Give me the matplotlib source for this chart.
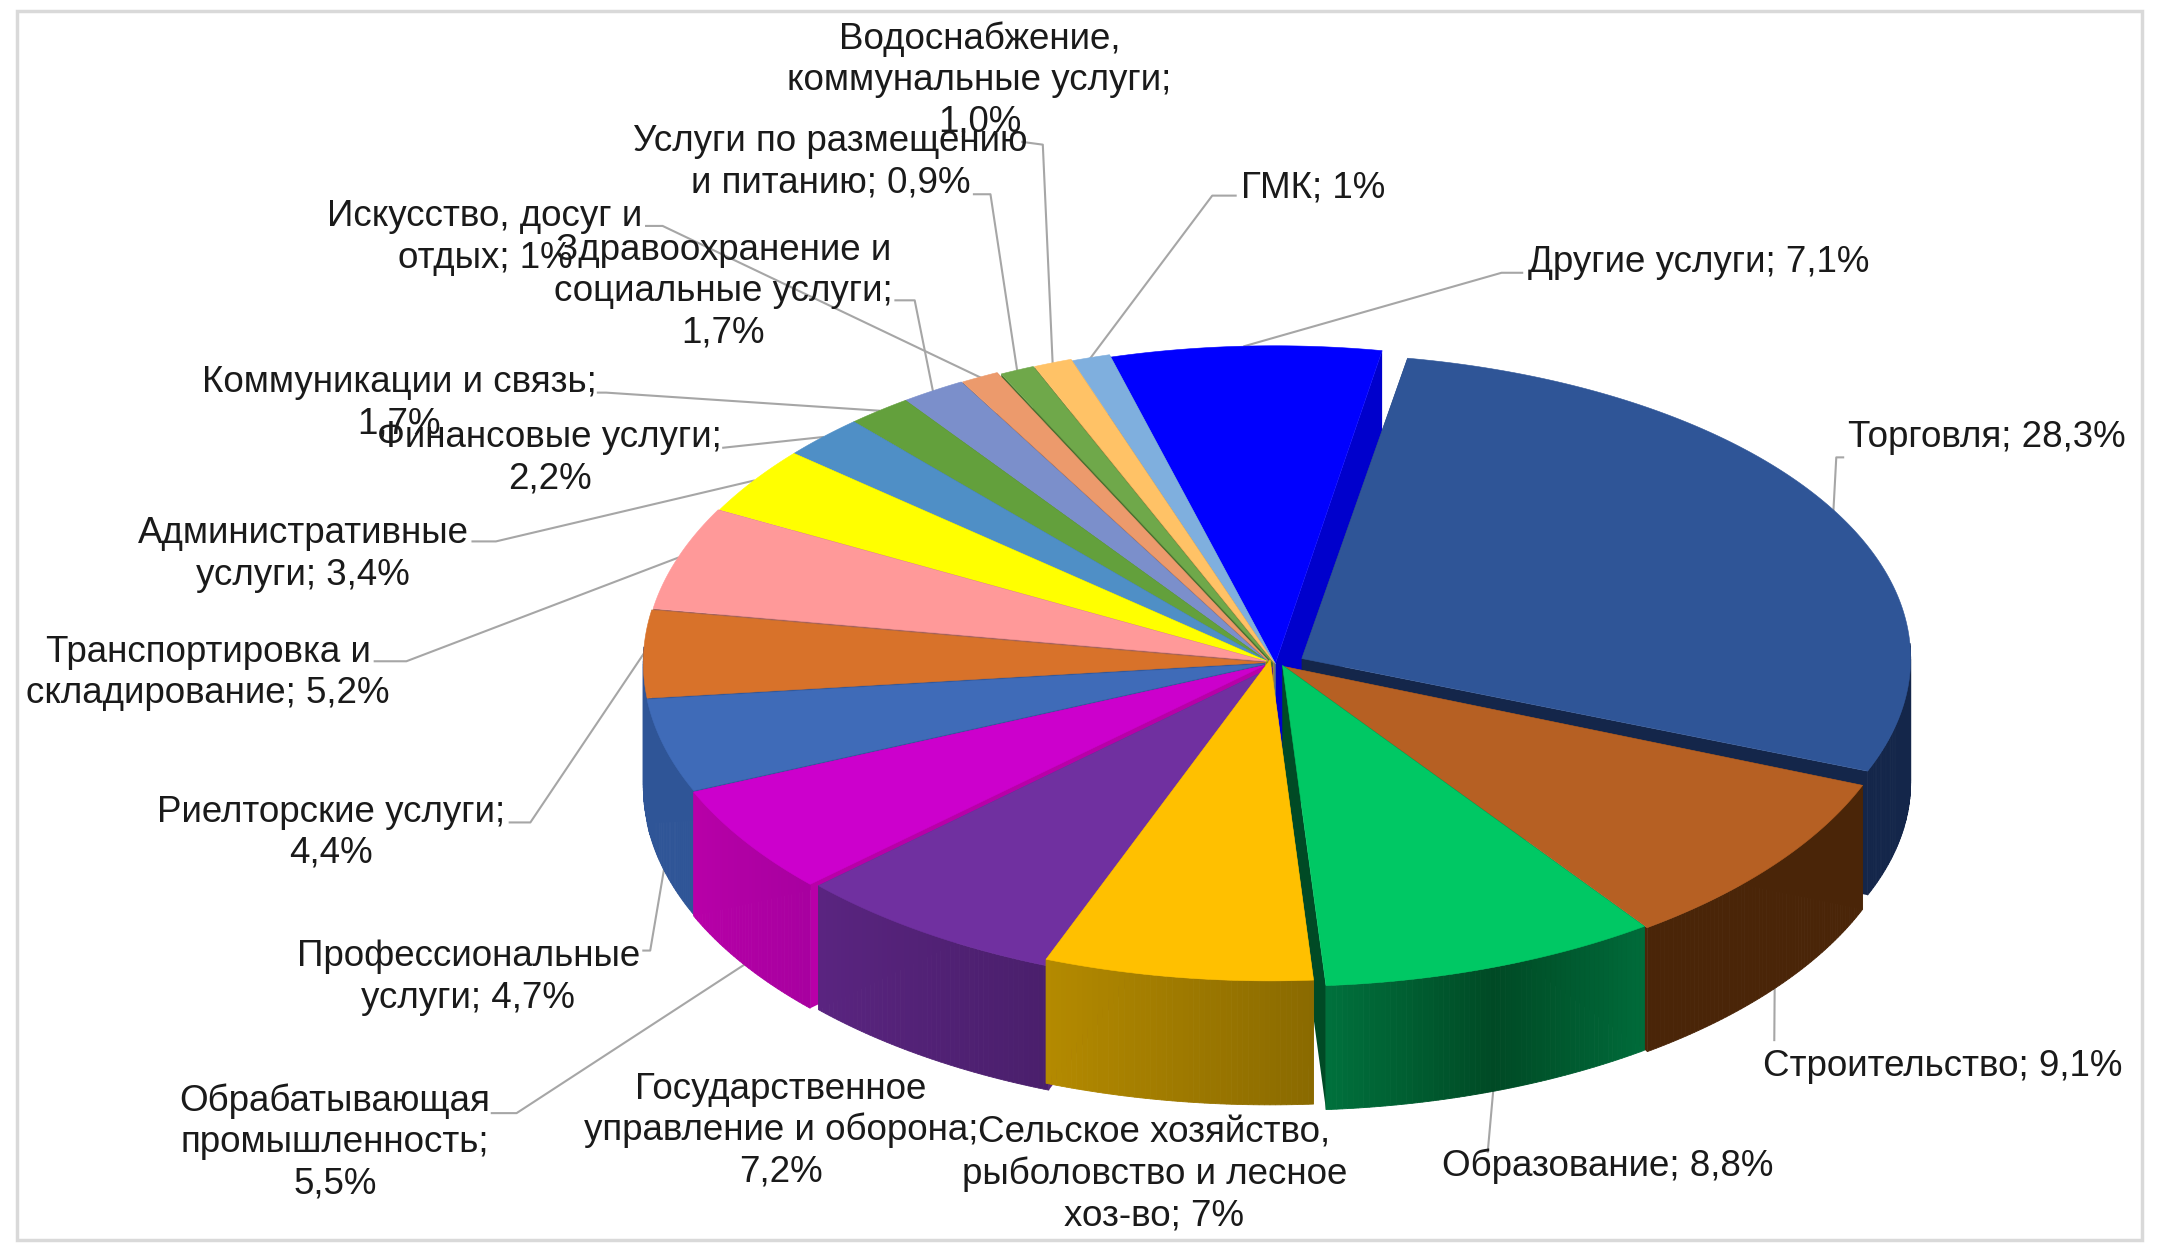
import numpy as np
import matplotlib
matplotlib.use("Agg")
import matplotlib.pyplot as plt
from matplotlib.colors import to_rgb
from matplotlib.patches import Polygon, Rectangle

# chart data, clockwise from the first slice
categories = [
    "Торговля", "Строительство", "Образование",
    "Сельское хозяйство,\nрыболовство и лесное\nхоз-во",
    "Государственное\nуправление и оборона", "Обрабатывающая\nпромышленность",
    "Профессиональные\nуслуги", "Риелторские услуги",
    "Транспортировка и\nскладирование", "Административные\nуслуги",
    "Финансовые услуги", "Коммуникации и связь",
    "Здравоохранение и\nсоциальные услуги", "Искусство, досуг и\nотдых",
    "Услуги по размещению\nи питанию", "Водоснабжение,\nкоммунальные услуги",
    "ГМК", "Другие услуги",
]
values = [28.3, 9.1, 8.8, 7.0, 7.2, 5.5, 4.7, 4.4, 5.2, 3.4, 2.2, 1.7, 1.7, 1.0, 0.9, 1.0, 1.0, 7.1]
value_labels = ["28,3%", "9,1%", "8,8%", "7%", "7,2%", "5,5%", "4,7%", "4,4%", "5,2%", "3,4%",
                "2,2%", "1,7%", "1,7%", "1%", "0,9%", "1,0%", "1%", "7,1%"]
value_on_new_line = [False, False, False, False, True, True, False, True, False, False,
                     True, True, True, False, False, True, False, False]

# slice styling
top_colors = ["#2F5597", "#B66023", "#00C864", "#FFC000", "#7030A0", "#CC00CC",
              "#3F6BB8", "#D8722A", "#FF9999", "#FFFF00", "#4F8FC6", "#63A03C",
              "#7B8FCB", "#EC9A6C", "#6FA84A", "#FFC266", "#7FAFDE", "#0000FF"]
# wall colours, ordered from the start angle to the end angle of the slice
wall_colors = [["#14264A"], ["#4A2508"], ["#006B3A", "#004A25", "#00703C"], ["#8A6A00", "#B48A00"],
               ["#4A1F6C", "#5A2480"], ["#A800A0", "#B800A8"], ["#2F5597"], ["#2F5597"],
               ["#A06060"], ["#909000"], ["#2F5F8A"], ["#3F6A25"], ["#4F5F8A"], ["#A06040"],
               ["#4A7030"], ["#A07F40"], ["#4F7090"], ["#0000CC"]]
# how far each slice is pulled out of the pie, in axes units
shift_x = [27, 15, 13, 4, 6, 0, 0, 0, 1, 2, 2, 2, 2, 3, 6, 7, 8, 7]
shift_y = [-3, 3, 2, -2, 3, 2, 1, 0, -1, -1, -1, -1, -1, -1, 0, 0, 1, 3]
radius_x = [0.98] + [1.0] * 17
radius_y = [0.95] + [1.0] * 17

# label layout: centre x, first line y, and the leader polyline towards the slice
label_x = [1442, 1410, 1167, 838, 567, 243, 340, 240, 151, 220, 399, 290, 525, 352, 603, 711, 953, 1233]
label_y = [315, 772, 844, 820, 788, 797, 692, 587, 471, 385, 315, 275, 179, 155, 100, 26, 134, 188]
leader_elbows = [[(1338, 332), (1333, 332)], [(1288, 755)], [(1080, 836)], None, None,
                 [(357, 808), (375, 808)], [(467, 690), (472, 690)], [(370, 597), (385, 597)],
                 [(272, 480), (295, 480)], [(343, 393), (360, 393)], [(525, 325)],
                 [(434, 285), (440, 285)], [(650, 218), (664, 218)], [(469, 164), (481, 164)],
                 [(707, 141), (719, 141)], [(742, 103), (757, 105)], [(897, 142), (880, 142)],
                 [(1105, 198), (1090, 198)]]
leader_on_wall = [False, True, True, False, False, True, True, False, False, False, False, False,
                  False, False, False, False, False, False]

# pie geometry in axes units
CX, CY = 918, 481
RX, RY = 451, 233
DEPTH = 90
START_ANGLE = 10.0
LINE_STEP = 30
TEXT_NUDGE = 2.5

plt.rcParams["font.family"] = ["Liberation Sans", "DejaVu Sans"]


def ellipse_point(ang, i):
    a = np.radians(ang)
    x = CX + shift_x[i] + RX * radius_x[i] * np.sin(a)
    y = CY + shift_y[i] - RY * radius_y[i] * np.cos(a)
    return x, y


def wall_color(stops, frac):
    rgb = np.array([to_rgb(c) for c in stops])
    if len(stops) == 1:
        return tuple(rgb[0])
    pos = np.linspace(0, 1, len(stops))
    return tuple(np.interp(frac, pos, rgb[:, k]) for k in range(3))


def draw_slice(ax, a0, a1, i, z):
    stops = wall_colors[i]
    top = top_colors[i]
    apex = np.array([CX + shift_x[i], CY + shift_y[i]], dtype=float)
    drop = np.array([0, DEPTH])
    angs = np.linspace(a0, a1, max(int((a1 - a0) * 2), 2) + 1)
    arc = np.array([ellipse_point(a, i) for a in angs])

    # radial side faces
    for end in (arc[0], arc[-1]):
        ax.add_patch(Polygon([apex, end, end + drop, apex + drop], closed=True,
                             fc=stops[len(stops) // 2], ec="none", zorder=z))

    # outer wall, split in strips so the colour can change along it
    for k in range(len(angs) - 1):
        if np.cos(np.radians((angs[k] + angs[k + 1]) / 2)) > 0.05:
            continue
        col = wall_color(stops, k / max(len(angs) - 2, 1))
        ax.add_patch(Polygon([arc[k], arc[k + 1], arc[k + 1] + drop, arc[k] + drop], closed=True,
                             fc=col, ec=col, lw=0.6, zorder=z))

    ax.add_patch(Polygon(np.vstack([apex, arc]), closed=True, fc=top, ec=top, lw=0.4, zorder=z))


fig = plt.figure(figsize=(21.6, 12.44), dpi=100)
ax = fig.add_axes([0, 0, 1, 1])
ax.set_xlim(0, 1568)
ax.set_ylim(903, 0)
ax.axis("off")

ax.add_patch(Rectangle((12, 8), 1543, 892, fc="white", ec="#D9D9D9", lw=2.5, zorder=0))

# slice angles from the values
shares = np.array(values) / np.sum(values) * 360.0
ends = START_ANGLE + np.cumsum(shares)
starts = ends - shares
mids = (starts + ends) / 2

# leaders first so the pie hides their ends
for i, elbow in enumerate(leader_elbows):
    if elbow is None:
        continue
    x, y = ellipse_point(mids[i], i)
    if leader_on_wall[i]:
        y += DEPTH
    pts = np.array(list(elbow) + [(x, y)])
    ax.plot(pts[:, 0], pts[:, 1], color="#A6A6A6", lw=1.5, zorder=1)

# back slices first
order = np.argsort(-np.cos(np.radians(mids)))
for n, i in enumerate(order):
    draw_slice(ax, starts[i], ends[i], i, 2 + n * 0.01)

for i, name in enumerate(categories):
    tail = ";\n" if value_on_new_line[i] else "; "
    lines = (name + tail + value_labels[i]).split("\n")
    for k, line in enumerate(lines):
        ax.text(label_x[i], label_y[i] + TEXT_NUDGE + k * LINE_STEP, line, ha="center", va="center",
                fontsize=26.5, color="#1A1A1A", zorder=10)

fig.savefig("out.png", dpi=100)
